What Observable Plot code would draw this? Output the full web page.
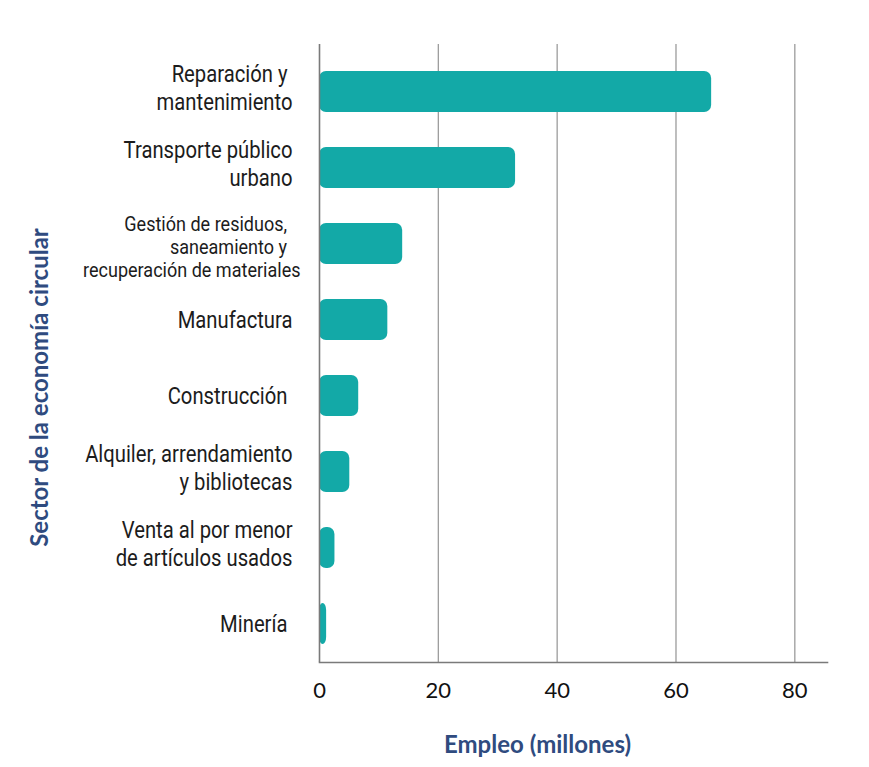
<!DOCTYPE html>
<html><head><meta charset="utf-8">
<script src="https://cdn.jsdelivr.net/npm/d3@7"></script>
<script src="https://cdn.jsdelivr.net/npm/@observablehq/plot@0.6"></script>
<style>
html,body{margin:0;padding:0;background:#ffffff;}
</style></head><body><div id="chart"></div>
<script>
const sectors = ["Reparación y mantenimiento","Transporte público urbano","Gestión de residuos, saneamiento y recuperación de materiales","Manufactura","Construcción","Alquiler, arrendamiento y bibliotecas","Venta al por menor de artículos usados","Minería"];
const sectorLabels = ["Reparación y\u00a0\nmantenimiento","Transporte público\nurbano","Gestión de residuos,\u00a0\u00a0\u00a0\nsaneamiento y\u00a0\u00a0\u00a0\nrecuperación de materiales","Manufactura","Construcción\u00a0","Alquiler, arrendamiento\ny bibliotecas","Venta al por menor\nde artículos usados","Minería\u00a0"];
const employment = [66, 33, 14, 11.5, 6.6, 5.1, 2.6, 1.2];
const xTicks = [0, 20, 40, 60, 80];
const xTitle = "Empleo (millones)";
const yTitle = "Sector de la economía circular";

const rows = sectors.map((s, i) => ({sector: s, label: sectorLabels[i], value: employment[i], lines: sectorLabels[i].split("\n").length}));
const labelFont = "Roboto, sans-serif";
const labelStyle = {x: 0, y: "sector", text: "label", textAnchor: "end", fontFamily: labelFont, fill: "#1c1c1c"};

const chart = Plot.plot({
  width: 869,
  height: 767,
  marginLeft: 319,
  marginRight: 42,
  marginTop: 44,
  marginBottom: 105,
  style: {fontFamily: "Lato, sans-serif", background: "#ffffff", color: "#1a1a1a"},
  x: {domain: [0, 85.5], axis: null},
  y: {domain: sectors, range: [54, 662], paddingInner: 0.46, paddingOuter: 0.22, axis: null},
  marks: [
    Plot.ruleX(xTicks.slice(1), {stroke: "#9c9c9c", strokeWidth: 1.3}),
    Plot.barX(rows, {x: "value", y: "sector", fill: "#13a9a7", rx: 7}),
    Plot.ruleX([0], {stroke: "#7a7a7a", strokeWidth: 1.6}),
    Plot.frame({anchor: "bottom", stroke: "#7a7a7a", strokeWidth: 1.6}),
    Plot.axisX({ticks: xTicks, tickSize: 0, tickPadding: 20, fontSize: 22, fill: "#111", tickFormat: d => String(d), label: null}),
    Plot.text(rows.filter(d => d.lines === 1), {...labelStyle, dx: -27, dy: 1, fontSize: 23}),
    Plot.text(rows.filter(d => d.lines === 2), {...labelStyle, dx: -27, dy: -5, fontSize: 23, lineHeight: 1.23}),
    Plot.text(rows.filter(d => d.lines === 3), {...labelStyle, dx: -19, dy: 3, fontSize: 20.5, lineHeight: 1.12}),
    Plot.text([yTitle], {frameAnchor: "left", textAnchor: "middle", lineAnchor: "middle", rotate: -90, dx: -279, dy: 34, fontSize: 24, fontWeight: "bold", fill: "#2f4b7f", fontFamily: "Lato, sans-serif"}),
    Plot.text([xTitle], {frameAnchor: "bottom", textAnchor: "middle", lineAnchor: "middle", dx: -36, dy: 83, fontSize: 24, fontWeight: "bold", fill: "#2f4b7f", fontFamily: "Lato, sans-serif"})
  ]
});
document.getElementById("chart").appendChild(chart);
// narrow the category labels horizontally (condensed look), anchored at their right edge
const flat = new Set(sectorLabels.map(l => l.replace(/\n/g, "")));
d3.select(chart).selectAll("text").each(function() {
  if (!flat.has(this.textContent)) return;
  const t = this.getAttribute("transform") || "";
  this.setAttribute("transform", t + " scale(0.88,1)");
});
</script>
</body></html>
